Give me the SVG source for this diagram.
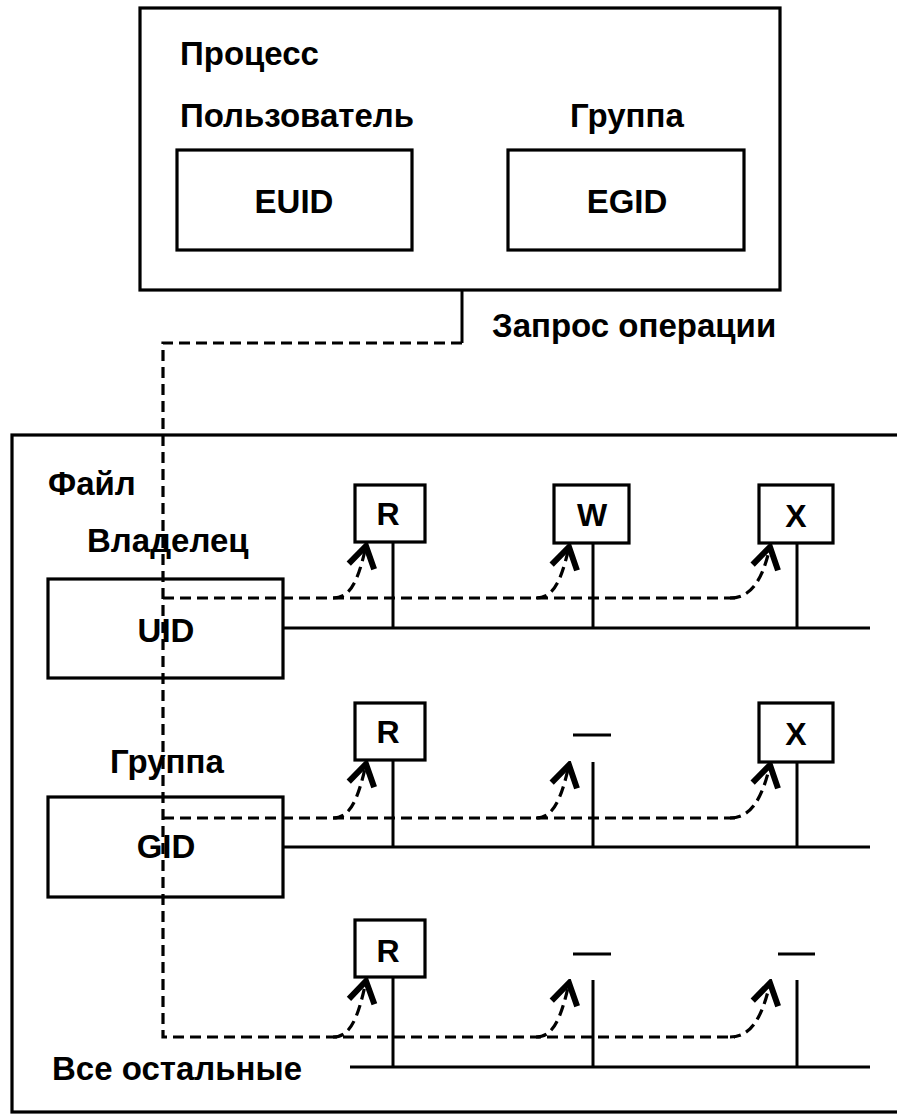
<svg xmlns="http://www.w3.org/2000/svg" width="897" height="1116" viewBox="0 0 897 1116">
<defs>
<style>
.box{fill:none;stroke:#000;stroke-width:3.2}
.ln{fill:none;stroke:#000;stroke-width:3}
.dash{fill:none;stroke:#000;stroke-width:3.2;stroke-dasharray:11 6}
.t{font-family:"Liberation Sans",Arial,sans-serif;font-size:33px;font-weight:bold;fill:#000}
.p{font-size:32px}
.c{text-anchor:middle}
</style>
<marker id="arr" viewBox="-28 -18 32 36" markerWidth="32" markerHeight="36" refX="0" refY="0" orient="auto" markerUnits="userSpaceOnUse">
<polyline points="-21,-13 0,0 -21,13" fill="none" stroke="#000" stroke-width="6"/>
</marker>
</defs>
<rect width="897" height="1116" fill="#fff"/>

<g id="process">
<rect class="box" x="140" y="8" width="640" height="282"/>
<text class="t" x="180" y="65">Процесс</text>
<text class="t" x="180" y="127">Пользователь</text>
<text class="t" x="570" y="127">Группа</text>
</g>
<g id="euid">
<rect class="box" x="177" y="150" width="235" height="100"/>
<text class="t c" x="294" y="213">EUID</text>
</g>
<g id="egid">
<rect class="box" x="508" y="150" width="236" height="100"/>
<text class="t c" x="627" y="213">EGID</text>
</g>
<text class="t" x="492" y="337">Запрос операции</text>

<g id="file">
<rect class="box" x="12" y="435" width="900" height="677"/>
<text class="t" x="48" y="495">Файл</text>
<text class="t" x="87" y="552">Владелец</text>
<text class="t" x="110" y="773">Группа</text>
<text class="t" x="52" y="1080">Все остальные</text>
</g>
<g id="uid">
<rect class="box" x="48" y="579" width="235" height="99"/>
<text class="t c" x="166" y="642">UID</text>
</g>
<g id="gid">
<rect class="box" x="48" y="797" width="235" height="100"/>
<text class="t c" x="166" y="858">GID</text>
</g>

<g id="perm-r1"><rect class="box" x="355" y="485" width="70" height="57"/><text class="t p c" x="388" y="525">R</text></g>
<g id="perm-w1"><rect class="box" x="554" y="485" width="75" height="58"/><text class="t p c" x="592" y="526">W</text></g>
<g id="perm-x1"><rect class="box" x="759" y="485" width="74" height="58"/><text class="t p c" x="796" y="527">X</text></g>
<g id="perm-r2"><rect class="box" x="355" y="703" width="70" height="57"/><text class="t p c" x="388" y="743">R</text></g>
<g id="perm-n2"><line class="ln" x1="573" y1="735" x2="611" y2="735" stroke-width="4"/></g>
<g id="perm-x2"><rect class="box" x="759" y="703" width="74" height="59"/><text class="t p c" x="796" y="745">X</text></g>
<g id="perm-r3"><rect class="box" x="355" y="920" width="70" height="57"/><text class="t p c" x="388" y="962">R</text></g>
<g id="perm-n3a"><line class="ln" x1="573" y1="954" x2="611" y2="954" stroke-width="4"/></g>
<g id="perm-n3b"><line class="ln" x1="778" y1="954" x2="815" y2="954" stroke-width="4"/></g>

<g id="connectors">
<line class="ln" x1="283" y1="628" x2="870" y2="628"/>
<line class="ln" x1="393" y1="542" x2="393" y2="628"/>
<line class="ln" x1="593" y1="543" x2="593" y2="628"/>
<line class="ln" x1="797" y1="543" x2="797" y2="628"/>

<line class="ln" x1="283" y1="847" x2="870" y2="847"/>
<line class="ln" x1="393" y1="760" x2="393" y2="847"/>
<line class="ln" x1="593" y1="762" x2="593" y2="847"/>
<line class="ln" x1="797" y1="762" x2="797" y2="847"/>

<line class="ln" x1="350" y1="1067" x2="870" y2="1067"/>
<line class="ln" x1="393" y1="977" x2="393" y2="1067"/>
<line class="ln" x1="593" y1="980" x2="593" y2="1067"/>
<line class="ln" x1="797" y1="980" x2="797" y2="1067"/>

<line class="ln" x1="462" y1="290" x2="462" y2="343"/>
<path class="dash" d="M462,343 H163 V1037 H735"/>
<path class="dash" d="M163,598 H735"/>
<path class="dash" d="M163,818 H735"/>

<path class="dash" d="M333,598 C350,598 358,582 366,546" marker-end="url(#arr)"/>
<path class="dash" d="M536,598 C553,598 561,582 569,547" marker-end="url(#arr)"/>
<path class="dash" d="M730,598 C750,598 762,582 770,547" marker-end="url(#arr)"/>

<path class="dash" d="M333,818 C350,818 358,800 366,764" marker-end="url(#arr)"/>
<path class="dash" d="M536,818 C553,818 561,800 569,765" marker-end="url(#arr)"/>
<path class="dash" d="M730,818 C750,818 762,800 770,765" marker-end="url(#arr)"/>

<path class="dash" d="M333,1037 C350,1037 358,1019 366,981" marker-end="url(#arr)"/>
<path class="dash" d="M536,1037 C553,1037 561,1019 569,983" marker-end="url(#arr)"/>
<path class="dash" d="M730,1037 C750,1037 762,1019 770,983" marker-end="url(#arr)"/>
</g>
</svg>
